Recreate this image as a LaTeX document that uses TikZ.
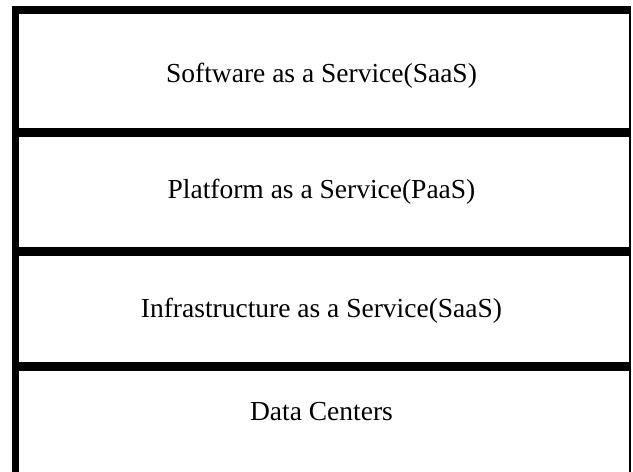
\documentclass[tikz,border=0pt]{standalone}
\usepackage{fontspec}
\setmainfont{Liberation Serif}
\usetikzlibrary{positioning}
\tikzset{
layer label/.style={font=\fontsize{27.5}{32}\selectfont,inner sep=0pt,anchor=base},
side rule/.style={line width=7pt},
top rule/.style={line width=8pt},
layer rule/.style={line width=9pt},
edge rule/.style={line width=2pt}}

\begin{document}
\begin{tikzpicture}[x=1pt,y=-1pt]

\useasboundingbox (0,0) rectangle (633,472);

% frame
\draw[side rule] (15.5,6) -- (15.5,472);
\draw[edge rule] (630,6) -- (630,472);
\draw[top rule] (12,10) -- (631,10);

% rules between the layers
\foreach \y in {132.5,251.5,366.5}
	\draw[layer rule] (12,\y) -- (631,\y);

\node[layer label] (saas) at (321.5,82) {Software as a Service(SaaS)};
\node[layer label] (paas) at (321.5,198) {Platform as a Service(PaaS)};
\node[layer label] (iaas) at (321.5,317) {Infrastructure as a Service(SaaS)};
\node[layer label] (dc) at (321.5,420) {Data Centers};
\end{tikzpicture}
\end{document}
